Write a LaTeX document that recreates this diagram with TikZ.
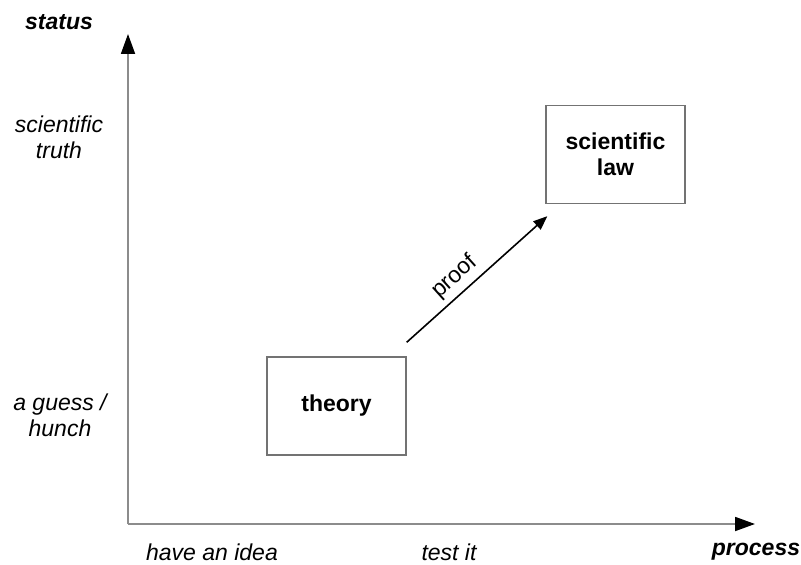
\documentclass[tikz,border=0pt]{standalone}
\usepackage{fontspec}
\setmainfont{Liberation Sans}
\usetikzlibrary{arrows.meta}
\begin{document}
\begin{tikzpicture}[x=0.5pt,y=-0.5pt,
  every node/.style={font=\fontsize{11.5}{13}\selectfont},
  lbl/.style={align=center,font=\fontsize{11.5}{13}\selectfont\itshape},
  axlbl/.style={font=\fontsize{11.5}{13}\selectfont\bfseries\itshape},
  boxnode/.style={draw=black!55,line width=0.7pt,minimum width=69.5pt,minimum height=49pt,align=center,font=\fontsize{11.5}{13}\selectfont\bfseries},
  axis/.style={draw=black!45,line width=0.9pt,-{Triangle[length=10pt,width=7pt,black]}},
  conn/.style={draw=black,line width=0.8pt,-{Triangle[length=7pt,width=5.5pt]}}]
\useasboundingbox (0,0) rectangle (801,565);
\coordinate (o) at (128,524);
\coordinate (ytip) at (128,34);
\coordinate (xtip) at (755,524);
\draw[axis] (o) -- (ytip);
\draw[axis] (o) -- (xtip);
\node[axlbl] (status) at (59,22) {status};
\node[axlbl] (process) at (756,552) {process};
\node[lbl] (truth) at (59,137) {scientific\\truth};
\node[lbl] (guess) at (60,415) {a guess /\\hunch};
\node[lbl] (idea) at (212,552) {have an idea};
\node[lbl] (test) at (449,552) {test it};
\node[boxnode] (theory) at (336.5,406) {theory};
\node[boxnode] (law) at (615.5,154.5) {scientific\\law};
\draw[conn] ([yshift=7pt]theory.north east) -- node[sloped,above,pos=0.42,inner sep=2.5pt] (proof) {proof} ([shift={(1pt,-6pt)}]law.south west);
\end{tikzpicture}
\end{document}
